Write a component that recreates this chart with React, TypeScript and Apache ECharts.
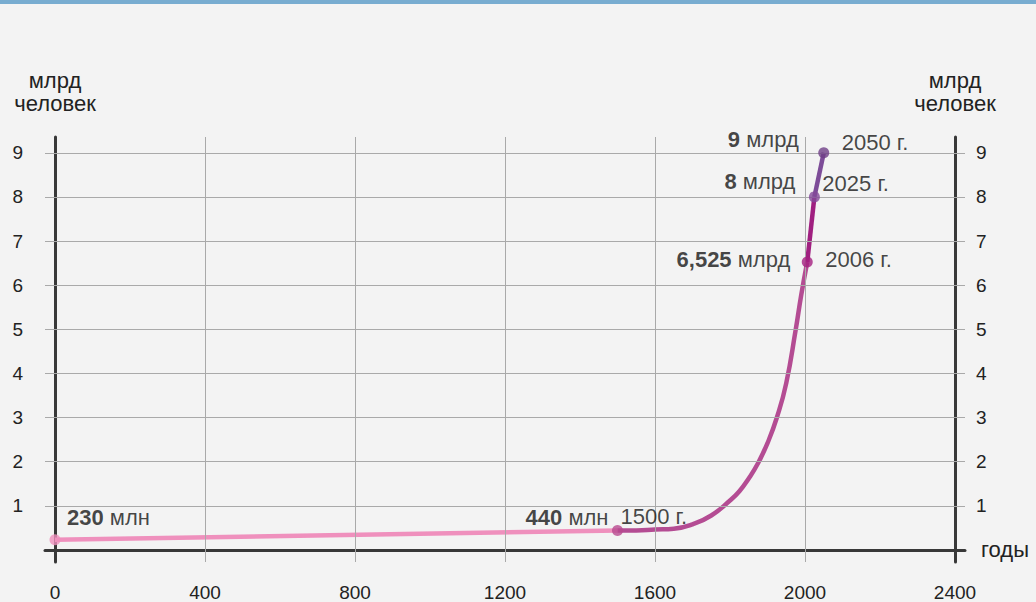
import React, { useEffect, useRef } from "react";
import * as echarts from "echarts";

// ---- data ----
const xTickValues = [0, 400, 800, 1200, 1600, 2000, 2400];
const yTickValues = [1, 2, 3, 4, 5, 6, 7, 8, 9];
const gridYears = [400, 800, 1200, 1600, 2000];

const ancientYears = [0, 1500];
const ancientValues = [0.23, 0.44];

const growthYears = [1500, 1550, 1600, 1650, 1700, 1750, 1800, 1825, 1850, 1875, 1900, 1925, 1950, 1975, 1990, 2006];
const growthValues = [0.44, 0.44, 0.46, 0.48, 0.58, 0.78, 1.12, 1.33, 1.62, 1.97, 2.42, 3.0, 3.78, 4.98, 5.78, 6.525];

const nearYears = [2006, 2025];
const nearValues = [6.525, 8];

const futureYears = [2025, 2050];
const futureValues = [8, 9];

const milestoneYears = [0, 1500, 2006, 2025, 2050];
const milestoneValues = [0.23, 0.44, 6.525, 8, 9];
const milestoneAmounts = ["230", "440", "6,525", "8", "9"];
const milestoneUnits = ["млн", "млн", "млрд", "млрд", "млрд"];
const milestoneYearLabels = ["", "1500 г.", "2006 г.", "2025 г.", "2050 г."];

// ---- styles ----
const FONT = "Liberation Sans, Arial, sans-serif";
const TEXT = "#222222";
const AXIS = "#383838";
const GRIDC = "#a9a9a9";
const LABEL = "#161616";
const dotColors = ["#ef90bd", "#b8488f", "#a41f80", "#83489a", "#6f3f87"];
const leftOffsets = [[12, -22], [-9, -13], [-17, -2], [-19, -15], [-25, -13]];
const leftAlign = ["left", "right", "right", "right", "right"];
const rightOffsets = [[0, 0], [3, -14], [18, -2], [8, -13], [18, -10]];

const zip = (xs: number[], ys: number[]) => xs.map((x, i) => [x, ys[i]]);

export default function App() {
  const ref = useRef<HTMLDivElement>(null);

  useEffect(() => {
    if (!ref.current) return;
    const chart = echarts.init(ref.current, null, { renderer: "svg" });

    const valueLabelData = milestoneYears.map((y, i) => ({
      value: [y, milestoneValues[i]],
      itemStyle: { color: dotColors[i] },
      label: {
        show: true,
        position: "inside",
        align: leftAlign[i],
        verticalAlign: "middle",
        offset: leftOffsets[i],
        formatter: `{b|${milestoneAmounts[i]}} {n|${milestoneUnits[i]}}`,
      },
    }));

    const yearLabelData = milestoneYears.map((y, i) => ({
      value: [y, milestoneValues[i]],
      label: {
        show: milestoneYearLabels[i] !== "",
        position: "inside",
        align: "left",
        verticalAlign: "middle",
        offset: rightOffsets[i],
        formatter: milestoneYearLabels[i],
      },
    }));

    const nameStyle = { fontSize: 22, lineHeight: 23, color: TEXT, fontFamily: FONT, align: "center" };

    const option: any = {
      animation: false,
      backgroundColor: "transparent",
      textStyle: { fontFamily: FONT },
      grid: { left: 45, right: 71, top: 137, bottom: 34, containLabel: false },
      xAxis: {
        type: "value",
        min: -26.667,
        max: 2426.667,
        name: "годы",
        nameLocation: "end",
        nameGap: 16,
        nameTextStyle: { fontSize: 22, color: TEXT, fontFamily: FONT, verticalAlign: "middle" },
        axisLine: { show: true, onZero: true, lineStyle: { color: AXIS, width: 3 } },
        axisTick: { show: false },
        splitLine: { show: false },
        axisLabel: {
          customValues: xTickValues,
          formatter: (v: number) => String(v),
          fontSize: 19,
          color: TEXT,
          fontFamily: FONT,
          margin: 21,
        },
      },
      yAxis: [
        {
          type: "value",
          position: "left",
          min: -0.274,
          max: 9.357,
          name: "млрд\nчеловек",
          nameLocation: "end",
          nameGap: 22,
          nameTextStyle: nameStyle,
          axisLine: { show: true, onZero: true, lineStyle: { color: AXIS, width: 3 } },
          axisTick: { show: false },
          splitLine: { show: false },
          axisLabel: { customValues: yTickValues, fontSize: 19, color: TEXT, fontFamily: FONT, margin: 22 },
        },
        {
          type: "value",
          position: "right",
          offset: -10,
          min: -0.274,
          max: 9.357,
          name: "млрд\nчеловек",
          nameLocation: "end",
          nameGap: 22,
          nameTextStyle: nameStyle,
          axisLine: { show: true, onZero: false, lineStyle: { color: AXIS, width: 3 } },
          axisTick: { show: false },
          splitLine: { show: false },
          axisLabel: { customValues: yTickValues, fontSize: 19, color: TEXT, fontFamily: FONT, margin: 21 },
        },
      ],
      series: [
        {
          type: "line",
          name: "grid",
          data: [],
          z: -1,
          silent: true,
          markLine: {
            silent: true,
            symbol: ["none", "none"],
            label: { show: false },
            lineStyle: { color: GRIDC, width: 1, type: "solid" },
            data: [
              ...yTickValues.map((v) => ({ yAxis: v })),
              ...gridYears.map((v) => ({ xAxis: v })),
            ],
          },
        },
        {
          type: "line",
          name: "ancient",
          data: zip(ancientYears, ancientValues),
          showSymbol: false,
          lineStyle: { color: "#ef90bd", width: 4.5 },
          z: 3,
        },
        {
          type: "line",
          name: "growth",
          data: zip(growthYears, growthValues),
          smooth: 0.5,
          showSymbol: false,
          lineStyle: { color: "#b44c93", width: 4.5 },
          z: 3,
        },
        {
          type: "line",
          name: "near",
          data: zip(nearYears, nearValues),
          showSymbol: false,
          lineStyle: { color: "#a01f80", width: 4.5 },
          z: 3,
        },
        {
          type: "line",
          name: "future",
          data: zip(futureYears, futureValues),
          showSymbol: false,
          lineStyle: { color: "#7d4c98", width: 4.5 },
          z: 3,
        },
        {
          type: "scatter",
          name: "milestones",
          data: valueLabelData,
          symbolSize: 11,
          z: 5,
          label: {
            fontSize: 22,
            color: LABEL,
            fontFamily: FONT,
            rich: {
              b: { fontSize: 22, fontWeight: "bold", color: LABEL, fontFamily: FONT },
              n: { fontSize: 22, color: LABEL, fontFamily: FONT },
            },
          },
        },
        {
          type: "scatter",
          name: "years",
          data: yearLabelData,
          symbolSize: 1,
          itemStyle: { color: "rgba(0,0,0,0)" },
          z: 5,
          label: { fontSize: 22, color: LABEL, fontFamily: FONT },
        },
      ],
    };

    chart.setOption(option);
    return () => chart.dispose();
  }, []);

  return (
    <div
      style={{
        position: "fixed",
        left: 0,
        top: 0,
        width: 1036,
        height: 602,
        background: "#f3f3f3",
        overflow: "hidden",
      }}
    >
      <div style={{ position: "absolute", left: 0, top: 0, width: 1036, height: 4, background: "#78acd0" }} />
      <div ref={ref} style={{ position: "absolute", left: 0, top: 0, width: 1036, height: 602 }} />
    </div>
  );
}
